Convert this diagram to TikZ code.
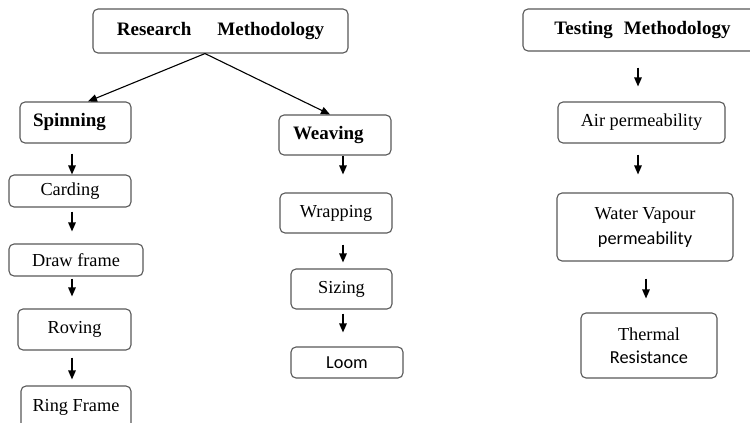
\documentclass[tikz,border=0pt]{standalone}
\usepackage{fontspec}
\setmainfont{Liberation Serif}
\newfontfamily\carlito{Carlito}
\usetikzlibrary{arrows.meta}
\begin{document}
\begin{tikzpicture}[x=1pt,y=-1pt,
  box/.style={draw=black!65, line width=1.1pt, rounded corners=5pt, inner sep=0pt,
    align=center, font=\fontsize{18.3}{21}\selectfont},
  head/.style={font=\fontsize{19}{21}\selectfont\bfseries},
  arr/.style={line width=1.3pt, -{Triangle[length=9pt,width=7.5pt]}}]
\useasboundingbox (0,0) rectangle (750,423);
\clip (0,0) rectangle (750,423);
\fill[white] (0,0) rectangle (750,423);
% Research column heads
\node[box, head, minimum width=255pt, minimum height=44pt] (rm) at (220.5,31)
  {Research\hspace{26pt}Methodology};
\node[box, head, minimum width=111pt, minimum height=41pt, text width=85pt, align=left] (spin) at (75.5,122.5) {Spinning};
\node[box, head, minimum width=112pt, minimum height=40pt, text width=84pt, align=left] (weav) at (335,135) {Weaving};
% Spinning column
\node[box, minimum width=122pt, minimum height=32pt] (car) at (70,191) {Carding};
\node[box, minimum width=134pt, minimum height=32pt] (drw) at (76,260) {Draw frame};
\node[box, minimum width=113pt, minimum height=41pt] (rov) at (74.5,329.5) {Roving};
\node[box, minimum width=110pt, minimum height=42pt] (ring) at (76,407) {Ring Frame};
% Weaving column
\node[box, minimum width=112pt, minimum height=40pt] (wrap) at (336,213) {Wrapping};
\node[box, minimum width=101pt, minimum height=40pt] (siz) at (341.5,289) {Sizing};
\node[box, minimum width=112pt, minimum height=31pt] (loom) at (347,362.5) {\carlito Loom};
% Testing column
\node[box, head, minimum width=239pt, minimum height=42pt] (test) at (642.5,30)
  {Testing\hspace{11pt}Methodology};
\node[box, minimum width=167pt, minimum height=41pt] (air) at (641.5,122.5) {Air permeability};
\node[box, minimum width=176pt, minimum height=68pt, font=\fontsize{18.3}{25}\selectfont] (wat) at (645,227)
  {Water Vapour\\{\carlito permeability}};
\node[box, minimum width=136pt, minimum height=65pt, font=\fontsize{18.3}{23}\selectfont] (therm) at (649,345.5)
  {Thermal\\{\carlito Resistance}};
% Connectors
\draw[arr, line width=1.1pt] ([xshift=-15.5pt]rm.south) -- ([xshift=12.5pt]spin.north);
\draw[arr, line width=1.1pt] ([xshift=-15.5pt]rm.south) -- ([xshift=-5pt]weav.north);
\draw[arr] ([xshift=-3.5pt,yshift=-10pt]spin.south) -- ([xshift=2pt]car.north);
\draw[arr] ([xshift=2pt,yshift=-4pt]car.south) -- ([xshift=-4pt,yshift=12pt]drw.north);
\draw[arr] ([xshift=-4pt,yshift=-2pt]drw.south) -- ([xshift=-2.5pt,yshift=12pt]rov.north);
\draw[arr] ([xshift=-2.5pt,yshift=-7pt]rov.south) -- ([xshift=-4pt,yshift=6pt]ring.north);
\draw[arr] ([xshift=8pt]weav.south) -- ([xshift=7pt,yshift=18pt]wrap.north);
\draw[arr] ([xshift=7pt,yshift=-11pt]wrap.south) -- ([xshift=1.5pt,yshift=6pt]siz.north);
\draw[arr] ([xshift=1.5pt,yshift=-4pt]siz.south) -- ([xshift=-4pt,yshift=14pt]loom.north);
\draw[arr] ([xshift=-4.5pt,yshift=-16pt]test.south) -- ([xshift=-3.5pt,yshift=15pt]air.north);
\draw[arr] ([xshift=-3.5pt,yshift=-11pt]air.south) -- ([xshift=-7pt,yshift=18pt]wat.north);
\draw[arr] ([xshift=1pt,yshift=-17pt]wat.south) -- ([xshift=-3pt,yshift=14pt]therm.north);
\end{tikzpicture}
\end{document}
